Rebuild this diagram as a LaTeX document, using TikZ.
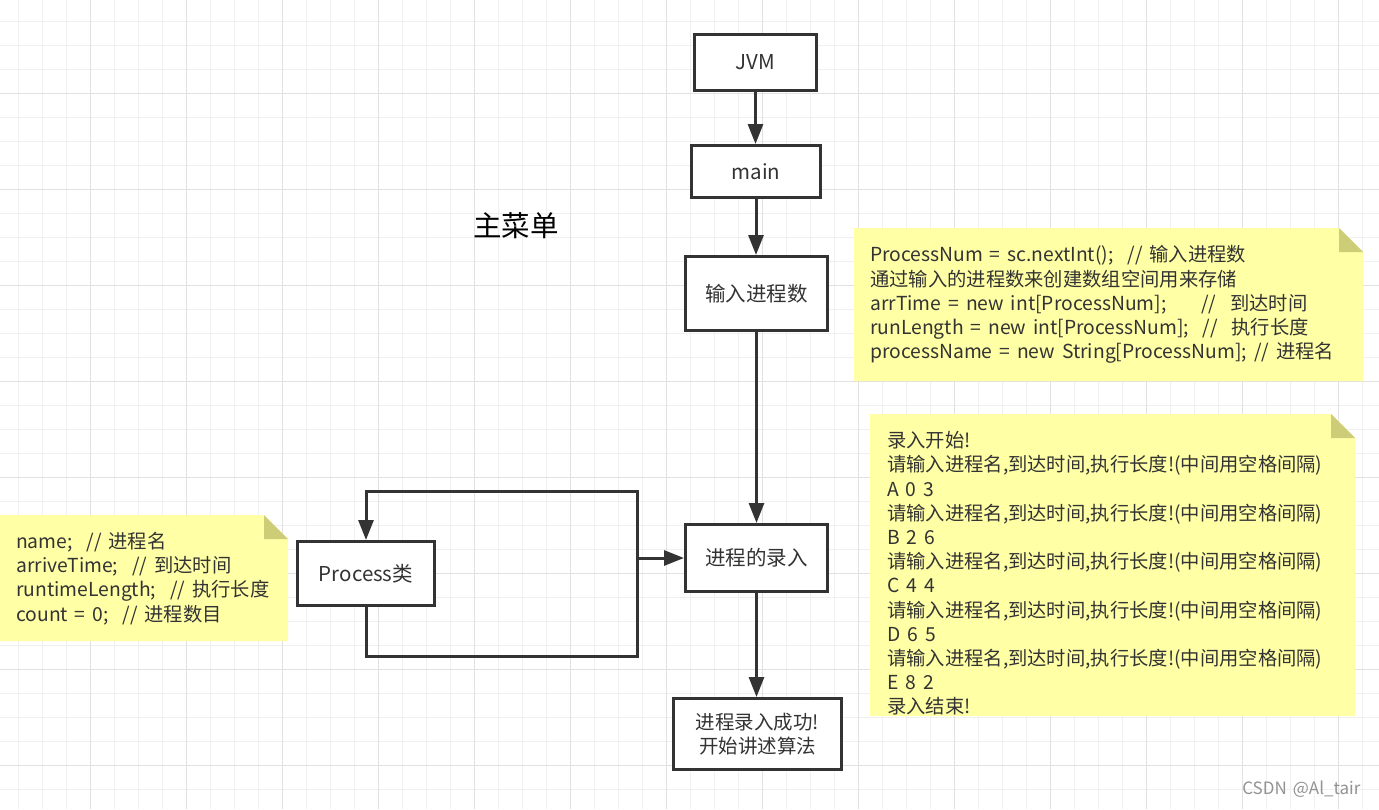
\documentclass[tikz,border=0pt]{standalone}
\usepackage{fontspec}
\setmainfont{Noto Sans CJK SC}[WordSpace=1.6]
\usetikzlibrary{arrows.meta}

\definecolor{ink}{HTML}{333333}
\definecolor{notefill}{HTML}{FFFFA6}
\definecolor{notefold}{HTML}{CDCD78}
\definecolor{gridminor}{HTML}{F0F0F0}
\definecolor{gridmajor}{HTML}{E1E1E1}

\tikzset{
	box/.style={draw=ink, line width=3pt, fill=white, text=ink, inner sep=0pt, font=\fontsize{20.5}{24}\selectfont},
	arr/.style={draw=ink, line width=3pt, -{Triangle[length=20pt, width=15pt]}},
	notetext/.style={text=ink, inner sep=0pt, anchor=west, align=left, font=\fontsize{19.3}{24.2}\selectfont},
}

\begin{document}
\begin{tikzpicture}[x=1pt, y=-1pt]
	% Background and grid:
	\fill[white] (0,0) rectangle (1379,809);
	\useasboundingbox (0,0) rectangle (1379,809);
	\foreach \gx in {0,...,57} \draw[gridminor, line width=1pt] ({18.5+24*\gx},0) -- ({18.5+24*\gx},809);
	\foreach \gy in {0,...,32} \draw[gridminor, line width=1pt] (0,{21+24*\gy}) -- (1379,{21+24*\gy});
	\foreach \gx in {0,...,13} \draw[gridmajor, line width=1pt] ({90.5+96*\gx},0) -- ({90.5+96*\gx},809);
	\foreach \gy in {0,...,7} \draw[gridmajor, line width=1pt] (0,{93+96*\gy}) -- (1379,{93+96*\gy});

	% Notes:
	\fill[notefill] (854,228) -- (1339,228) -- (1363,252) -- (1363,381) -- (854,381) -- cycle;
	\fill[notefold] (1339,228) -- (1339,252) -- (1363,252) -- cycle;
	\node[notetext] (numnote) at (870,304.5) {ProcessNum = sc.nextInt();~~// 输入进程数\\
		通过输入的进程数来创建数组空间用来存储\\
		arrTime = new int[ProcessNum];~~~~~//~~到达时间\\
		runLength = new int[ProcessNum];~~//~~执行长度\\
		processName = new String[ProcessNum]; // 进程名};

	\fill[notefill] (870,414) -- (1331,414) -- (1355,438) -- (1355,716) -- (870,716) -- cycle;
	\fill[notefold] (1331,414) -- (1331,438) -- (1355,438) -- cycle;
	\node[notetext] (entrynote) at (887,573.5) {录入开始!\\
		请输入进程名,到达时间,执行长度!(中间用空格间隔)\\
		A 0 3\\
		请输入进程名,到达时间,执行长度!(中间用空格间隔)\\
		B 2 6\\
		请输入进程名,到达时间,执行长度!(中间用空格间隔)\\
		C 4 4\\
		请输入进程名,到达时间,执行长度!(中间用空格间隔)\\
		D 6 5\\
		请输入进程名,到达时间,执行长度!(中间用空格间隔)\\
		E 8 2\\
		录入结束!};

	\fill[notefill] (0,515) -- (264,515) -- (288,539) -- (288,641) -- (0,641) -- cycle;
	\fill[notefold] (264,515) -- (264,539) -- (288,539) -- cycle;
	\node[notetext] (procnote) at (16,578.5) {name;~~// 进程名\\
		arriveTime;~~// 到达时间\\
		runtimeLength;~~// 执行长度\\
		count = 0;~~// 进程数目};

	% Boxes:
	\node[box, minimum width=122pt, minimum height=56pt] (jvm) at (755.5,62.5) {JVM};
	\node[box, minimum width=129pt, minimum height=52pt] (main) at (756,171.5) {main};
	\node[box, minimum width=142pt, minimum height=74pt] (inputnum) at (756.5,293.5) {输入进程数};
	\node[box, minimum width=142pt, minimum height=67pt] (entry) at (756.5,558) {进程的录入};
	\node[box, minimum width=137pt, minimum height=64pt] (proc) at (366,573.5) {Process类};
	\node[box, minimum width=168pt, minimum height=71pt, align=center, font=\fontsize{19.5}{24}\selectfont] (done) at (757.5,734) {进程录入成功!\\开始讲述算法};
	\node[text=black, font=\fontsize{28.5}{32}\selectfont] (title) at (516,226) {主菜单};
	\node[text=gray!85, anchor=east, font=\fontsize{17}{20}\selectfont] (mark) at (1364,789) {CSDN @Al\_tair};

	% Connectors:
	\draw[arr] (jvm.south) -- (jvm.south |- main.north);
	\draw[arr] (main.south) -- (main.south |- inputnum.north);
	\draw[arr] (inputnum.south) -- (inputnum.south |- entry.north);
	\draw[arr] (entry.south) -- (entry.south |- done.north);
	\coordinate (loopbr) at (637,656);
	\coordinate (looptr) at (637,491);
	\draw[arr] (proc.south) |- (loopbr) -- (looptr) -| (proc.north);
	\draw[arr] (looptr |- entry.west) -- (entry.west);
\end{tikzpicture}
\end{document}
